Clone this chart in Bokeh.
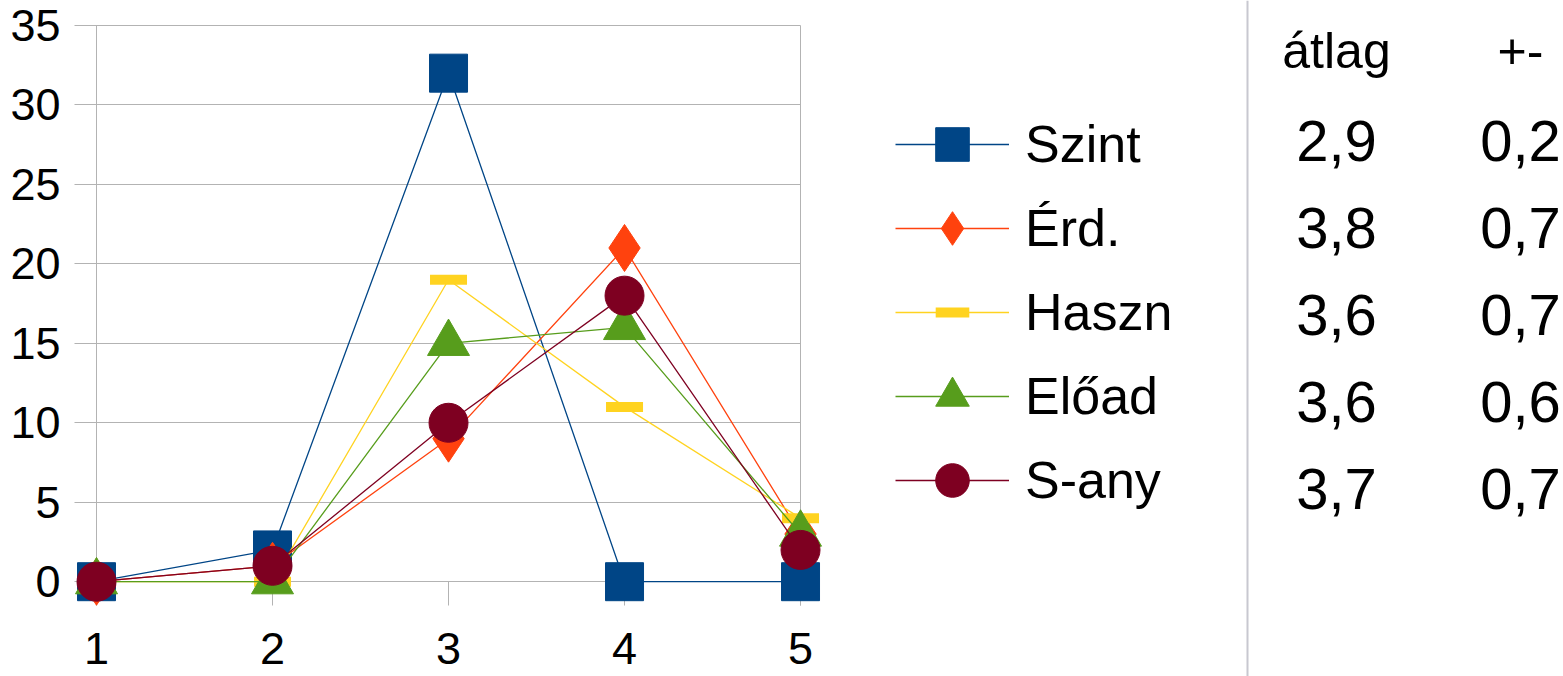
from bokeh.plotting import figure
from bokeh.models import (LinearAxis, FixedTicker, Range1d, Legend, LegendItem,
                          Span, ColumnDataSource)
from bokeh.core.properties import value
from bokeh.embed import file_html
from bokeh.resources import INLINE

# ---------------- data ----------------
categories = [1, 2, 3, 4, 5]
szint = [0, 2, 32, 0, 0]
erd = [0, 1, 9, 21, 3]
haszn = [0, 0, 19, 11, 4]
eload = [0, 0, 15, 16, 3]
sany = [0, 1, 10, 18, 2]
series_names = ["Szint", "Érd.", "Haszn", "Előad", "S-any"]
y_ticks = [0, 5, 10, 15, 20, 25, 30, 35]
table_headers = ["átlag", "+-"]
atlag = ["2,9", "3,8", "3,6", "3,6", "3,7"]
plusminus = ["0,2", "0,7", "0,7", "0,6", "0,7"]

# ---------------- styles ----------------
FONT = "Liberation Sans"
GRID = "#b3b3b3"
colors = ["#004586", "#ff420e", "#ffd320", "#579d1c", "#7e0021"]
markers = ["square", "diamond", "dash", "triangle", "circle"]
sizes = [38, 47, 37, 42, 39]

W, H = 1563, 676
Y_BOTTOM = -1.5   # lower end of the plot box (below the zero line)

# The frame covers the whole page; ranges are chosen so that the chart box sits
# on the left and the legend / table on the right.
p = figure(width=W, height=H, output_backend="svg", toolbar_location=None,
           x_range=Range1d(0.4545, 9.335), y_range=Range1d(-5.966, 36.573),
           x_axis_type=None, y_axis_type=None, min_border=0)
p.outline_line_color = None
p.background_fill_color = "white"
p.border_fill_color = "white"

# y axis: labels, outer ticks, horizontal grid lines (long inner ticks), left edge
yaxis = LinearAxis(fixed_location=categories[0], ticker=FixedTicker(ticks=y_ticks),
                   bounds=(Y_BOTTOM, y_ticks[-1]),
                   axis_line_color=GRID, axis_line_width=1,
                   major_tick_out=22, major_tick_in=704,
                   major_tick_line_color=GRID, minor_tick_line_color=None,
                   major_label_text_font=FONT, major_label_text_font_size="45px",
                   major_label_text_color="black", major_label_standoff=14,
                   level="underlay")
p.add_layout(yaxis, "left")

# right edge of the chart box
redge = LinearAxis(fixed_location=categories[-1], ticker=FixedTicker(ticks=[]),
                   bounds=(Y_BOTTOM, y_ticks[-1]),
                   axis_line_color=GRID, axis_line_width=1,
                   major_tick_line_color=None, minor_tick_line_color=None,
                   major_label_text_color=None, level="underlay")
p.add_layout(redge, "right")

# x axis: short ticks below the zero line and category labels
xaxis = LinearAxis(fixed_location=0, ticker=FixedTicker(ticks=categories),
                   axis_line_color=None, major_tick_out=24, major_tick_in=0,
                   major_tick_line_color=GRID, minor_tick_line_color=None,
                   major_label_text_font=FONT, major_label_text_font_size="45px",
                   major_label_text_color="black", major_label_standoff=27,
                   level="underlay")
p.add_layout(xaxis, "below")

items = []
for name, vals, c, m, s in zip(series_names, [szint, erd, haszn, eload, sany],
                               colors, markers, sizes):
    lr = p.line(categories, vals, line_color=c, line_width=1.3)
    if m == "dash":
        sr = p.scatter(categories, vals, marker=m, size=s, line_color=c, line_width=10)
    else:
        sr = p.scatter(categories, vals, marker=m, size=s, fill_color=c, line_color=c,
                       line_width=1)
    items.append(LegendItem(label=name, renderers=[lr, sr]))

legend = Legend(items=items, location=(895, 154), glyph_width=114, glyph_height=84,
                spacing=0, padding=0, margin=0, label_standoff=16,
                border_line_color=None, background_fill_alpha=0,
                label_text_font=FONT, label_text_font_size="52px",
                label_text_color="black", label_height=84)
p.add_layout(legend)

# ---------------- table on the right ----------------
p.add_layout(Span(location=1247, location_units="screen", dimension="height",
                  line_color="#c8c8d0", line_width=2))

p.extra_x_ranges = {"table_x": Range1d(-7.2609, 1.2337)}
p.extra_y_ranges = {"table_y": Range1d(6.1609, -1.6092)}

rows = list(range(len(series_names)))
cells = ColumnDataSource(dict(
    col=[0] * len(atlag) + [1] * len(plusminus),
    row=rows + rows,
    text=atlag + plusminus))
p.text(x="col", y="row", text="text", source=cells, text_font=value(FONT),
       text_font_size="58px", text_align="center", text_baseline="alphabetic",
       text_color="black", x_range_name="table_x", y_range_name="table_y")
hdr = ColumnDataSource(dict(col=[0, 1], row=[-1, -1], text=table_headers))
p.text(x="col", y="row", text="text", source=hdr, text_font=value(FONT),
       text_font_size="50px", text_align="center", text_baseline="alphabetic",
       text_color="black", y_offset=-3, x_range_name="table_x", y_range_name="table_y")

open("out.html", "w").write(file_html(p, INLINE))
